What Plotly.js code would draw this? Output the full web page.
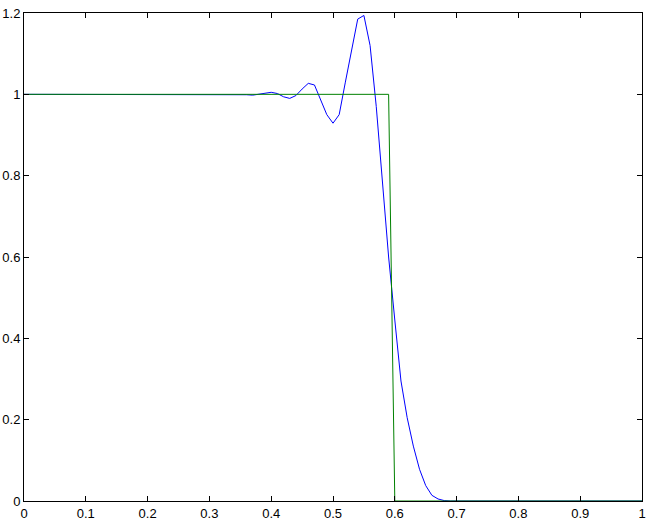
<!DOCTYPE html>
<html>
<head>
<meta charset="utf-8">
<script src="https://cdn.plot.ly/plotly-3.0.1.min.js"></script>
<style>
  html, body { margin: 0; padding: 0; background: #fff; }
  #plot { width: 652px; height: 521px; }
</style>
</head>
<body>
<div id="plot"></div>
<script>
// approximation (blue), sampled every 0.01 where it moves off the flat parts
var approxX = [0, 0.35, 0.36, 0.37, 0.38, 0.39, 0.40, 0.41, 0.42, 0.43, 0.44,
    0.45, 0.46, 0.47, 0.48, 0.49, 0.50, 0.51, 0.52, 0.53, 0.54, 0.55, 0.56,
    0.57, 0.58, 0.59, 0.60, 0.61, 0.62, 0.63, 0.64, 0.65, 0.66, 0.67, 0.68,
    0.69, 1]
var approxY = [1, 1, 0.999, 0.998, 1.000, 1.003, 1.005, 1.002, 0.994, 0.990, 0.997,
    1.013, 1.027, 1.023, 0.987, 0.950, 0.929, 0.950, 1.030, 1.110, 1.185, 1.194, 1.120,
    0.970, 0.780, 0.600, 0.445, 0.295, 0.205, 0.135, 0.078, 0.038, 0.014, 0.005, 0.001,
    0, 0]

// exact step (green)
var stepX = [0, 0.59, 0.60, 1]
var stepY = [1, 1, 0, 0]

var xTicks = [0, 0.1, 0.2, 0.3, 0.4, 0.5, 0.6, 0.7, 0.8, 0.9, 1]
var yTicks = [0, 0.2, 0.4, 0.6, 0.8, 1, 1.2]

var traces = [
    {
        x: approxX,
        y: approxY,
        type: 'scatter',
        mode: 'lines',
        line: {color: '#0000ff', width: 1},
        hoverinfo: 'skip'
    },
    {
        x: stepX,
        y: stepY,
        type: 'scatter',
        mode: 'lines',
        line: {color: '#008000', width: 1},
        hoverinfo: 'skip'
    }
]

var axisStyle = {
    showline: true,
    linecolor: '#000',
    linewidth: 1,
    mirror: 'ticks',
    ticks: 'inside',
    ticklen: 5,
    tickwidth: 1,
    tickcolor: '#000',
    showgrid: false,
    zeroline: false,
    tickmode: 'array',
    tickfont: {family: 'Liberation Sans, Arial, sans-serif', size: 13, color: '#000'}
}

var layout = {
    width: 652,
    height: 521,
    margin: {l: 24, r: 10, t: 13, b: 20, pad: 0},
    showlegend: false,
    paper_bgcolor: '#fff',
    plot_bgcolor: '#fff',
    xaxis: Object.assign({}, axisStyle, {
        range: [0, 1],
        tickvals: xTicks,
        ticktext: xTicks.map(String)
    }),
    yaxis: Object.assign({}, axisStyle, {
        range: [0, 1.2],
        tickvals: yTicks,
        ticktext: yTicks.map(String)
    })
}

Plotly.newPlot('plot', traces, layout, {staticPlot: true, displayModeBar: false})
</script>
</body>
</html>
